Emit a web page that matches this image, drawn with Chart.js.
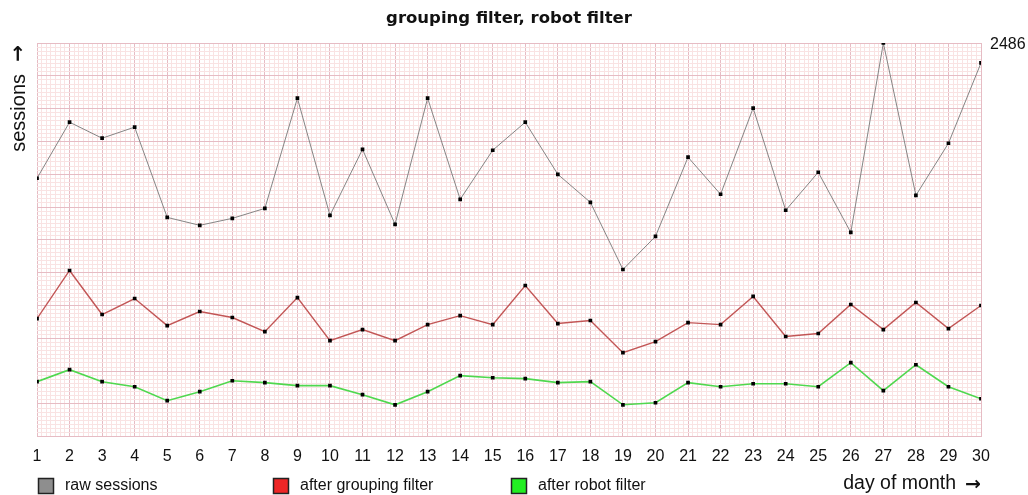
<!DOCTYPE html>
<html>
<head>
<meta charset="utf-8">
<script src="https://cdn.jsdelivr.net/npm/chart.js@4/dist/chart.umd.min.js"></script>
<style>
  html, body { margin: 0; padding: 0; background: #ffffff; }
  #wrap { width: 1028px; height: 495px; position: relative; }
</style>
</head>
<body>
<div id="wrap"><canvas id="c" width="1028" height="495"></canvas></div>
<script>
// ---- data ----
const days = [1,2,3,4,5,6,7,8,9,10,11,12,13,14,15,16,17,18,19,20,21,22,23,24,25,26,27,28,29,30];
const rawSessions = [1632,1986,1885,1955,1385,1335,1379,1442,2138,1398,1815,1341,2138,1499,1809,1986,1657,1480,1056,1265,1765,1531,2075,1430,1670,1290,2486,1524,1853,2360];
const afterGrouping = [746,1050,772,873,702,791,753,664,879,607,677,607,708,765,708,955,715,734,531,601,721,708,886,633,652,835,677,848,683,829];
const afterRobot = [348,424,348,316,228,285,354,342,323,323,266,202,285,386,373,367,342,348,202,215,342,316,335,335,316,468,291,455,316,240];
const seriesNames = ['raw sessions', 'after grouping filter', 'after robot filter'];
const legendColors = ['#8e8e8e', '#ee2626', '#22ee22'];
const titleText = 'grouping filter, robot filter';
const yAxisText = 'sessions';
const xAxisText = 'day of month';
const arrowText = '\u2192';
const yMaxValue = 2486;
const yMaxLabel = '2486';

const X_SUB = 7;    // minor divisions per day
const Y_MAJOR = 12; // major horizontal divisions
const Y_SUB = 8;    // minor divisions per major

const MAJOR = '#e6bcc4';
const MINOR = '#f9e3e3';

const pts = arr => days.map((d, i) => ({ x: d, y: arr[i] }));

const textPlugin = {
  id: 'texts',
  afterDraw(chart) {
    const ctx = chart.ctx;
    ctx.save();
    ctx.fillStyle = '#111';
    // title
    ctx.font = 'bold 16.5px "DejaVu Sans", Verdana, sans-serif';
    ctx.textAlign = 'center';
    ctx.textBaseline = 'middle';
    ctx.fillText(titleText, 509, 19);
    // max label
    ctx.font = '16px "Liberation Sans", Arial, sans-serif';
    ctx.textAlign = 'left';
    ctx.fillText(yMaxLabel, 990, 45);
    // y axis label
    ctx.save();
    ctx.translate(19, 45);
    ctx.rotate(-Math.PI / 2);
    ctx.textBaseline = 'middle';
    ctx.textAlign = 'right';
    ctx.font = 'bold 20px "DejaVu Sans", sans-serif';
    ctx.fillText(arrowText, 0, 0);
    ctx.font = '20px "Liberation Sans", Arial, sans-serif';
    ctx.fillText(yAxisText, -29, 0);
    ctx.restore();
    // x axis label
    ctx.textAlign = 'right';
    ctx.textBaseline = 'middle';
    ctx.font = 'bold 19px "DejaVu Sans", sans-serif';
    ctx.fillText(arrowText, 981, 485);
    ctx.font = '19.5px "Liberation Sans", Arial, sans-serif';
    ctx.fillText(xAxisText, 956, 484);
    // legend
    const lx = [38, 273, 511];
    ctx.font = '16px "Liberation Sans", Arial, sans-serif';
    ctx.textAlign = 'left';
    for (let i = 0; i < seriesNames.length; i++) {
      ctx.fillStyle = legendColors[i];
      ctx.fillRect(lx[i], 478, 16, 16);
      ctx.strokeStyle = '#222';
      ctx.lineWidth = 1.5;
      ctx.strokeRect(lx[i] + 0.5, 478.5, 15, 15);
      ctx.fillStyle = '#111';
      ctx.fillText(seriesNames[i], lx[i] + 27, 486);
    }
    ctx.restore();
  }
};

new Chart(document.getElementById('c'), {
  type: 'line',
  data: {
    datasets: [
      { label: seriesNames[0], data: pts(rawSessions), borderColor: '#858585', borderWidth: 1 },
      { label: seriesNames[1], data: pts(afterGrouping), borderColor: '#c25656', borderWidth: 1.4 },
      { label: seriesNames[2], data: pts(afterRobot), borderColor: '#4fd84f', borderWidth: 1.6 }
    ].map(d => Object.assign(d, {
      tension: 0,
      fill: false,
      pointStyle: 'rect',
      pointRadius: 2.6,
      pointBackgroundColor: '#000',
      pointBorderColor: '#000',
      pointBorderWidth: 0
    }))
  },
  options: {
    responsive: false,
    animation: false,
    devicePixelRatio: 1,
    layout: { padding: { left: 37, right: 47, top: 43, bottom: 19 } },
    plugins: { legend: { display: false }, title: { display: false }, tooltip: { enabled: false } },
    scales: {
      x: {
        type: 'linear',
        min: days[0],
        max: days[days.length - 1],
        afterBuildTicks(scale) {
          const t = [];
          for (let i = 0; i <= (days.length - 1) * X_SUB; i++) t.push({ value: days[0] + i / X_SUB });
          scale.ticks = t;
        },
        ticks: {
          autoSkip: false,
          maxRotation: 0,
          minRotation: 0,
          padding: 10,
          color: '#111',
          font: { size: 16, family: '"Liberation Sans", Arial, sans-serif' },
          callback(v) {
            const r = Math.round(v);
            return Math.abs(v - r) < 1e-6 ? String(r) : '';
          }
        },
        grid: {
          drawTicks: false,
          lineWidth: 1,
          color(c) {
            const v = c.tick ? c.tick.value : 0;
            return Math.abs(v - Math.round(v)) < 1e-6 ? MAJOR : MINOR;
          }
        },
        border: { display: false }
      },
      y: {
        min: 0,
        max: yMaxValue,
        afterBuildTicks(scale) {
          const t = [];
          const n = Y_MAJOR * Y_SUB;
          for (let i = 0; i <= n; i++) t.push({ value: yMaxValue * i / n });
          scale.ticks = t;
        },
        ticks: { display: false },
        grid: {
          drawTicks: false,
          lineWidth: 1,
          color(c) { return c.index % Y_SUB === 0 ? MAJOR : MINOR; }
        },
        border: { display: false }
      }
    }
  },
  plugins: [textPlugin]
});
</script>
</body>
</html>
